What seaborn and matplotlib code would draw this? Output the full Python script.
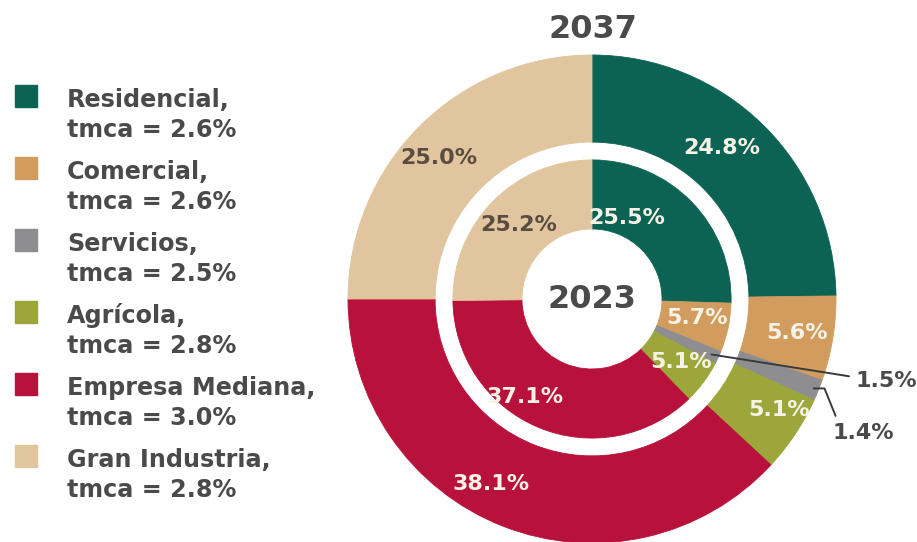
import numpy as np
import matplotlib
matplotlib.use("Agg")
import matplotlib.pyplot as plt
from matplotlib.patches import Rectangle
import seaborn as sns

# Energy consumption share by sector, 2023 (inner ring) and 2037 (outer ring)
categories = ["Residencial", "Comercial", "Servicios", "Agrícola",
              "Empresa Mediana", "Gran Industria"]
share_2037 = [24.8, 5.6, 1.4, 5.1, 38.1, 25.0]
share_2023 = [25.5, 5.7, 1.5, 5.1, 37.1, 25.2]
tmca = [2.6, 2.6, 2.5, 2.8, 3.0, 2.8]
years = ["2023", "2037"]

sns.set_theme(style="white")
plt.rcParams["font.family"] = ["DejaVu Sans"]

colors = sns.color_palette(["#0d6353", "#d39c5f", "#8e8e90",
                            "#9da63a", "#b8113c", "#e0c59e"])
text_dark = "#4a4a4a"
text_light = "#f6f3e6"
text_on_tan = "#5b4c40"
label_colors = [text_light, text_light, text_light, text_light,
                text_light, text_on_tan]

W, H = 917, 542
fig = plt.figure(figsize=(W / 100, H / 100), dpi=100)

# Donut axes: centre (592, 299) px, outer radius 244 px
cx, cy, R = 592, 299, 244
ax = fig.add_axes([(cx - R) / W, (H - cy - R) / H, 2 * R / W, 2 * R / H])

outer_r, outer_w = 1.0, 1.0 - 0.643
inner_r, inner_w = 0.570, 0.570 - 0.287

for vals, r, w in ((share_2037, outer_r, outer_w), (share_2023, inner_r, inner_w)):
    wedges, _ = ax.pie(vals, radius=r, colors=colors, startangle=90,
                       counterclock=False, wedgeprops=dict(width=w, linewidth=0.6))
    for wd in wedges:
        wd.set_edgecolor(wd.get_facecolor())
ax.set_xlim(-1, 1)
ax.set_ylim(-1, 1)
ax.set_aspect("equal")
ax.axis("off")

# Value labels inside the rings (index 2 = Servicios gets a leader line)
outer_pos = [(0.533, 0.619), (0.840, -0.139), None, (0.766, -0.455),
             (-0.414, -0.758), (-0.627, 0.578)]
inner_pos = [(0.143, 0.332), (0.430, -0.078), None, (0.365, -0.258),
             (-0.275, -0.402), (-0.299, 0.303)]
lab_fs = 16
for vals, pos in ((share_2037, outer_pos), (share_2023, inner_pos)):
    for v, p, c in zip(vals, pos, label_colors):
        if p is None:
            continue
        ax.text(p[0], p[1], f"{v:.1f}%", ha="center", va="center",
                fontsize=lab_fs, fontweight="bold", color=c)


def wedge_mid(values, idx, r):
    start = sum(values[:idx])
    mid = start + values[idx] / 2
    ang = np.deg2rad(90 - 360 * mid / sum(values))
    return r * np.cos(ang), r * np.sin(ang)


k = categories.index("Servicios")
ax.annotate(f"{share_2023[k]:.1f}%", xy=wedge_mid(share_2023, k, 0.54),
            xytext=(1.078, -0.336), ha="left", va="center",
            fontsize=lab_fs, fontweight="bold", color=text_dark,
            annotation_clip=False,
            arrowprops=dict(arrowstyle="-", color="#3a3a3a", lw=1.4,
                            shrinkA=2, shrinkB=0,
                            connectionstyle="angle,angleA=180,angleB=-9,rad=0"))
ax.annotate(f"{share_2037[k]:.1f}%", xy=wedge_mid(share_2037, k, 0.98),
            xytext=(1.111, -0.549), ha="center", va="center",
            fontsize=lab_fs, fontweight="bold", color=text_dark,
            annotation_clip=False,
            arrowprops=dict(arrowstyle="-", color="#3a3a3a", lw=1.4,
                            shrinkA=3, shrinkB=0, relpos=(0.1, 1.0),
                            connectionstyle="angle,angleA=112,angleB=0,rad=0"))

# Year labels
ax.text(0, -0.004, years[0], ha="center", va="center", fontsize=23,
        fontweight="bold", color=text_dark)
fig.text(593 / W, 1 - 30 / H, years[1], ha="center", va="center",
         fontsize=23, fontweight="bold", color=text_dark)

# Legend drawn as coloured squares with two-line captions
leg_fs = 17.2
for i, (name, rate, col) in enumerate(zip(categories, tmca, colors)):
    y1 = 100 + 72 * i
    fig.patches.append(Rectangle((15 / W, 1 - (y1 + 7) / H), 22 / W, 22 / H,
                                 transform=fig.transFigure, color=col))
    fig.text(67 / W, 1 - y1 / H, f"{name},", ha="left", va="center",
             fontsize=leg_fs, fontweight="bold", color=text_dark)
    fig.text(67 / W, 1 - (y1 + 30) / H, f"tmca = {rate:.1f}%", ha="left",
             va="center", fontsize=leg_fs, fontweight="bold", color=text_dark)

fig.savefig("out.png", dpi=100, facecolor="white")
